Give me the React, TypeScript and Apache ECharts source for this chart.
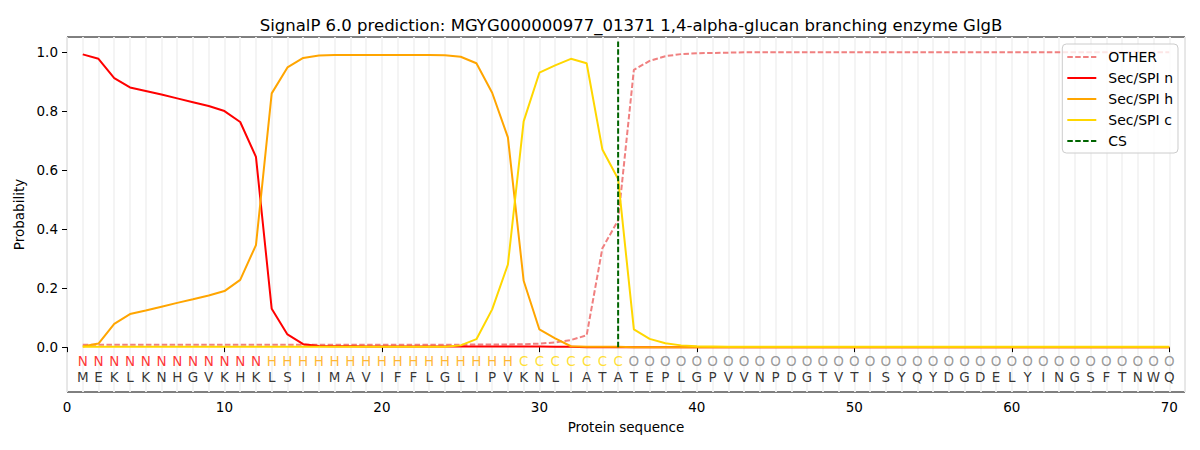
import React, { useEffect, useRef } from "react";
import * as echarts from "echarts";

const sequence = "MEKLKNHGVKHKLSIIMAVIFFLGLIPVKNLIATATEPLGPVVNPDGTVTISYQYDGDELYINGSFTNWQ".split("");
const regionLabels = "NNNNNNNNNNNNHHHHHHHHHHHHHHHHCCCCCCCOOOOOOOOOOOOOOOOOOOOOOOOOOOOOOOOOOO".split("");

const otherProb = [
  0.008, 0.008, 0.008, 0.008, 0.008, 0.008, 0.008, 0.008, 0.008, 0.008,
  0.008, 0.008, 0.008, 0.008, 0.008, 0.008, 0.008, 0.008, 0.008, 0.008,
  0.008, 0.008, 0.008, 0.008, 0.008, 0.009, 0.009, 0.009, 0.010, 0.012,
  0.016, 0.024, 0.040, 0.335, 0.430, 0.940, 0.970, 0.986, 0.993, 0.996,
  0.997, 0.998, 0.999, 0.999, 0.999, 0.999, 0.999, 0.999, 0.999, 0.999,
  0.999, 0.999, 0.999, 0.999, 0.999, 0.999, 0.999, 0.999, 0.999, 0.999,
  0.999, 0.999, 0.999, 0.999, 0.999, 0.999, 0.999, 0.999, 0.999, 0.999,
];
const secN = [
  0.992, 0.977, 0.912, 0.880, 0.868, 0.856, 0.843, 0.830, 0.817, 0.800,
  0.763, 0.645, 0.130, 0.043, 0.010, 0.004, 0.003, 0.003, 0.002, 0.002,
  0.002, 0.002, 0.002, 0.002, 0.002, 0.002, 0.002, 0.002, 0.002, 0.002,
  0.001, 0.001, 0.000, 0.000, 0.000, 0.000, 0.000, 0.000, 0.000, 0.000,
  0.000, 0.000, 0.000, 0.000, 0.000, 0.000, 0.000, 0.000, 0.000, 0.000,
  0.000, 0.000, 0.000, 0.000, 0.000, 0.000, 0.000, 0.000, 0.000, 0.000,
  0.000, 0.000, 0.000, 0.000, 0.000, 0.000, 0.000, 0.000, 0.000, 0.000,
];
const secH = [
  0.002, 0.012, 0.079, 0.112, 0.124, 0.137, 0.150, 0.162, 0.175, 0.190,
  0.228, 0.346, 0.860, 0.948, 0.980, 0.988, 0.990, 0.990, 0.990, 0.990,
  0.990, 0.990, 0.990, 0.989, 0.984, 0.962, 0.862, 0.711, 0.225, 0.060,
  0.030, 0.003, 0.001, 0.001, 0.001, 0.000, 0.000, 0.000, 0.000, 0.000,
  0.000, 0.000, 0.000, 0.000, 0.000, 0.000, 0.000, 0.000, 0.000, 0.000,
  0.000, 0.000, 0.000, 0.000, 0.000, 0.000, 0.000, 0.000, 0.000, 0.000,
  0.000, 0.000, 0.000, 0.000, 0.000, 0.000, 0.000, 0.000, 0.000, 0.000,
];
const secC = [
  0.001, 0.001, 0.001, 0.001, 0.001, 0.001, 0.001, 0.001, 0.001, 0.001,
  0.001, 0.001, 0.001, 0.001, 0.001, 0.001, 0.001, 0.001, 0.001, 0.001,
  0.001, 0.001, 0.001, 0.001, 0.006, 0.027, 0.128, 0.280, 0.765, 0.930,
  0.955, 0.977, 0.962, 0.670, 0.570, 0.060, 0.028, 0.013, 0.006, 0.003,
  0.002, 0.001, 0.001, 0.001, 0.001, 0.001, 0.001, 0.001, 0.001, 0.001,
  0.001, 0.001, 0.001, 0.001, 0.001, 0.001, 0.001, 0.001, 0.001, 0.001,
  0.001, 0.001, 0.001, 0.001, 0.001, 0.001, 0.001, 0.001, 0.001, 0.001,
];
const xTicks = [0, 10, 20, 30, 40, 50, 60, 70];
const yTicks = [0, 0.2, 0.4, 0.6, 0.8, 1.0];
const csPosition = 35;
const csTop = 1.036;

const regionColors: Record<string, string> = {
  N: "#ff0000",
  H: "#ffa500",
  C: "#ffd700",
  O: "#808080",
};

const FONT = "DejaVu Sans";

export default function App() {
  const ref = useRef<HTMLDivElement>(null);
  useEffect(() => {
    if (!ref.current) return;
    const chart = echarts.init(ref.current, null, { renderer: "svg" });
    const pos = sequence.map((_, i) => i + 1);
    const toPairs = (arr: number[]) => pos.map((p, i) => [p, arr[i]]);
    const dash = [5.5, 2.4];

    const option: any = {
      animation: false,
      backgroundColor: "#ffffff",
      textStyle: { fontFamily: FONT },
      title: {
        text: "SignalP 6.0 prediction: MGYG000000977_01371 1,4-alpha-glucan branching enzyme GlgB",
        left: 626,
        top: 12,
        textAlign: "center",
        textStyle: { fontFamily: FONT, fontSize: 16.5, fontWeight: "normal", color: "#000" },
      },
      grid: {
        left: 67,
        right: 15,
        top: 37,
        bottom: 58,
        show: true,
        borderColor: "#000",
        borderWidth: 1,
        backgroundColor: "transparent",
      },
      legend: {
        orient: "vertical",
        right: 22,
        top: 44,
        data: ["OTHER", "Sec/SPI n", "Sec/SPI h", "Sec/SPI c", "CS"],
        itemWidth: 29,
        itemHeight: 14,
        itemGap: 7,
        padding: [6, 5, 5, 4],
        backgroundColor: "rgba(255,255,255,0.8)",
        borderColor: "#cccccc",
        borderWidth: 1,
        borderRadius: 4,
        itemStyle: { color: "rgba(0,0,0,0)", borderColor: "rgba(0,0,0,0)", borderWidth: 0, opacity: 0 },
        textStyle: { fontFamily: FONT, fontSize: 14, color: "#000", padding: [0, 0, 0, 7] },
      },
      xAxis: [
        {
          type: "value",
          min: 0,
          max: 71,
          interval: 10,
          name: "Protein sequence",
          nameLocation: "middle",
          nameGap: 28,
          nameTextStyle: { fontFamily: FONT, fontSize: 13.5, color: "#000" },
          axisLine: { show: false },
          axisTick: { show: true, length: 5, lineStyle: { color: "#000" }, customValues: xTicks },
          axisLabel: { fontFamily: FONT, fontSize: 13.5, color: "#000", margin: 8, customValues: xTicks },
          splitLine: { show: false },
        },
        {
          type: "value",
          min: 0,
          max: 71,
          interval: 1,
          position: "bottom",
          axisLine: { show: false },
          axisTick: { show: false },
          axisLabel: { show: false },
          splitLine: { show: true, lineStyle: { color: "#f3f3f3", width: 1.8 } },
        },
      ],
      yAxis: {
        type: "value",
        min: -0.152,
        max: 1.051,
        name: "Probability",
        nameLocation: "middle",
        nameGap: 40,
        nameRotate: 90,
        nameTextStyle: { fontFamily: FONT, fontSize: 13.5, color: "#000" },
        axisLine: { show: false },
        axisTick: { show: true, length: 5, lineStyle: { color: "#000" }, customValues: yTicks },
        axisLabel: {
          fontFamily: FONT,
          fontSize: 13.5,
          color: "#000",
          margin: 9,
          customValues: yTicks,
          formatter: (v: number) => v.toFixed(1),
        },
        splitLine: { show: false },
      },
      series: [
        {
          name: "OTHER",
          type: "line",
          data: toPairs(otherProb),
          symbol: "none",
          lineStyle: { color: "#f08080", width: 2, type: dash },
          itemStyle: { color: "#f08080" },
          z: 2,
        },
        {
          name: "Sec/SPI n",
          type: "line",
          data: toPairs(secN),
          symbol: "none",
          lineStyle: { color: "#ff0000", width: 2 },
          itemStyle: { color: "#ff0000" },
          z: 3,
        },
        {
          name: "Sec/SPI h",
          type: "line",
          data: toPairs(secH),
          symbol: "none",
          lineStyle: { color: "#ffa500", width: 2 },
          itemStyle: { color: "#ffa500" },
          z: 4,
        },
        {
          name: "Sec/SPI c",
          type: "line",
          data: toPairs(secC),
          symbol: "none",
          lineStyle: { color: "#ffd700", width: 2 },
          itemStyle: { color: "#ffd700" },
          z: 5,
        },
        {
          name: "CS",
          type: "line",
          data: [
            [csPosition, 0],
            [csPosition, csTop],
          ],
          symbol: "none",
          lineStyle: { color: "#006400", width: 2, type: dash },
          itemStyle: { color: "#006400" },
          z: 6,
        },
        {
          name: "regions",
          type: "scatter",
          symbolSize: 0,
          silent: true,
          data: regionLabels.map((r, i) => ({
            value: [i + 1, -0.046],
            name: r,
            label: { color: regionColors[r] },
          })),
          label: {
            show: true,
            position: "inside",
            formatter: "{b}",
            fontFamily: FONT,
            fontSize: 13.5,
          },
          z: 7,
        },
        {
          name: "residues",
          type: "scatter",
          symbolSize: 0,
          silent: true,
          data: sequence.map((aa, i) => ({ value: [i + 1, -0.1], name: aa })),
          label: {
            show: true,
            position: "inside",
            formatter: "{b}",
            fontFamily: FONT,
            fontSize: 13.5,
            color: "#000",
          },
          z: 7,
        },
      ],
    };
    chart.setOption(option);
    return () => chart.dispose();
  }, []);
  return (
    <div
      ref={ref}
      style={{ position: "fixed", left: 0, top: 0, width: 1200, height: 450, background: "#fff" }}
    />
  );
}
